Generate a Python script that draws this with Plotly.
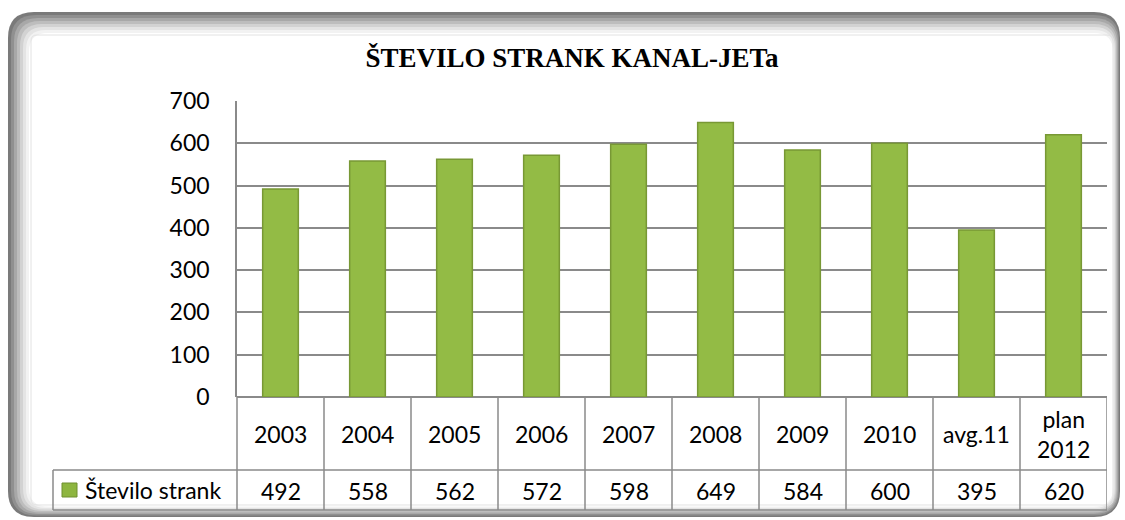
import plotly.graph_objects as go

categories = ["2003", "2004", "2005", "2006", "2007", "2008", "2009", "2010", "avg.11", "plan<br>2012"]
values = [492, 558, 562, 572, 598, 649, 584, 600, 395, 620]
series_name = "Število strank"
title_text = "ŠTEVILO STRANK KANAL-JETa"
y_ticks = [0, 100, 200, 300, 400, 500, 600, 700]

W, H = 1125, 520
L, R, T, B = 237, 1107, 101, 397
PW, PH = R - L, B - T


def px(x):
    return (x - L) / PW


def py(y):
    return (B - y) / PH


def rrect(x0, y0, x1, y1, r):
    X = lambda v: f"{px(v):.5f}"
    Y = lambda v: f"{py(v):.5f}"
    return (f"M {X(x0 + r)},{Y(y0)} L {X(x1 - r)},{Y(y0)} Q {X(x1)},{Y(y0)} {X(x1)},{Y(y0 + r)} "
            f"L {X(x1)},{Y(y1 - r)} Q {X(x1)},{Y(y1)} {X(x1 - r)},{Y(y1)} "
            f"L {X(x0 + r)},{Y(y1)} Q {X(x0)},{Y(y1)} {X(x0)},{Y(y1 - r)} "
            f"L {X(x0)},{Y(y0 + r)} Q {X(x0)},{Y(y0)} {X(x0 + r)},{Y(y0)} Z")


fig = go.Figure()
fig.add_trace(go.Bar(
    x=list(range(len(categories))), y=values, width=0.41,
    marker=dict(color="#93bb45", line=dict(color="#789835", width=1.5)),
    name=series_name, showlegend=False, hoverinfo="y",
))

shapes = []
# frame (layered to mimic soft shadow)
frame_cols = ["#7a7a7a", "#909090", "#a8a8a8", "#bdbdbd", "#d2d2d2", "#e4e4e4", "#f2f2f2", "#ffffff"]
for k, c in enumerate(frame_cols):
    shapes.append(dict(type="path", xref="paper", yref="paper", layer="below",
                       path=rrect(8 + 3 * k, 12 + 3 * k, 1120 - 1 * k, 517 - 1.5 * k, 26 - k),
                       fillcolor=c, line=dict(width=0)))
shapes.append(dict(type="path", xref="paper", yref="paper", layer="below",
                   path=rrect(31, 35, 1113, 505, 6), fillcolor="rgba(0,0,0,0)",
                   line=dict(color="#e2e2e2", width=1)))

gc = "#8a8a8a"
lw = 1.5
# table horizontal lines
for yy in (470, 510):
    shapes.append(dict(type="line", xref="paper", yref="paper", x0=px(53), x1=1.0, y0=py(yy), y1=py(yy),
                       line=dict(color=gc, width=lw)))
# left legend cell border and y-axis extension
shapes.append(dict(type="line", xref="paper", yref="paper", x0=px(53), x1=px(53), y0=py(470), y1=py(510),
                   line=dict(color=gc, width=lw)))
shapes.append(dict(type="line", xref="paper", yref="paper", x0=0, x1=0, y0=0, y1=py(510),
                   line=dict(color=gc, width=lw)))
# category separators
for i in range(len(categories)):
    shapes.append(dict(type="line", xref="x", yref="paper", x0=i + 0.5, x1=i + 0.5, y0=0, y1=py(510),
                       line=dict(color=gc, width=lw)))
# legend key
shapes.append(dict(type="rect", xref="paper", yref="paper", x0=px(62), x1=px(77), y0=py(497), y1=py(483),
                   fillcolor="#8db53f", line=dict(color="#6f8f2e", width=1)))

font_main = "Lato, 'Open Sans', sans-serif"
fs = 23
annotations = []
for i, c in enumerate(categories):
    annotations.append(dict(x=i, y=py(434), xref="x", yref="paper", text=c, showarrow=False,
                            font=dict(size=fs, color="#000", family=font_main), xanchor="center", yanchor="middle"))
    annotations.append(dict(x=i, y=py(491), xref="x", yref="paper", text=str(values[i]), showarrow=False,
                            font=dict(size=fs, color="#000", family=font_main), xanchor="center", yanchor="middle"))
annotations.append(dict(x=px(83), y=py(490), xref="paper", yref="paper", text=series_name, showarrow=False,
                        font=dict(size=fs, color="#000", family=font_main), xanchor="left", yanchor="middle"))

fig.update_layout(
    width=W, height=H,
    margin=dict(l=L, r=W - R, t=T, b=H - B, pad=0),
    paper_bgcolor="white", plot_bgcolor="rgba(0,0,0,0)",
    title=dict(text=f"<b>{title_text}</b>", x=572 / W, y=1 - 58 / H, xanchor="center", yanchor="middle",
               font=dict(family="'Liberation Serif', serif", size=27, color="#000")),
    shapes=shapes, annotations=annotations,
    xaxis=dict(range=[-0.5, len(categories) - 0.5], showticklabels=False, showgrid=False, zeroline=False,
               showline=False, ticks=""),
    yaxis=dict(range=[0, 700], tickvals=y_ticks, showgrid=True, gridcolor=gc, gridwidth=lw, zeroline=True,
               zerolinecolor=gc, zerolinewidth=lw, showline=True, linecolor=gc, linewidth=lw, ticks="",
               ticklabelstandoff=21, tickfont=dict(size=fs, color="#000", family=font_main)),
    bargap=0.59,
)

fig.write_html("out.html", config={"displayModeBar": False},
               post_script="document.body.style.margin='0';document.body.style.overflow='hidden';")
